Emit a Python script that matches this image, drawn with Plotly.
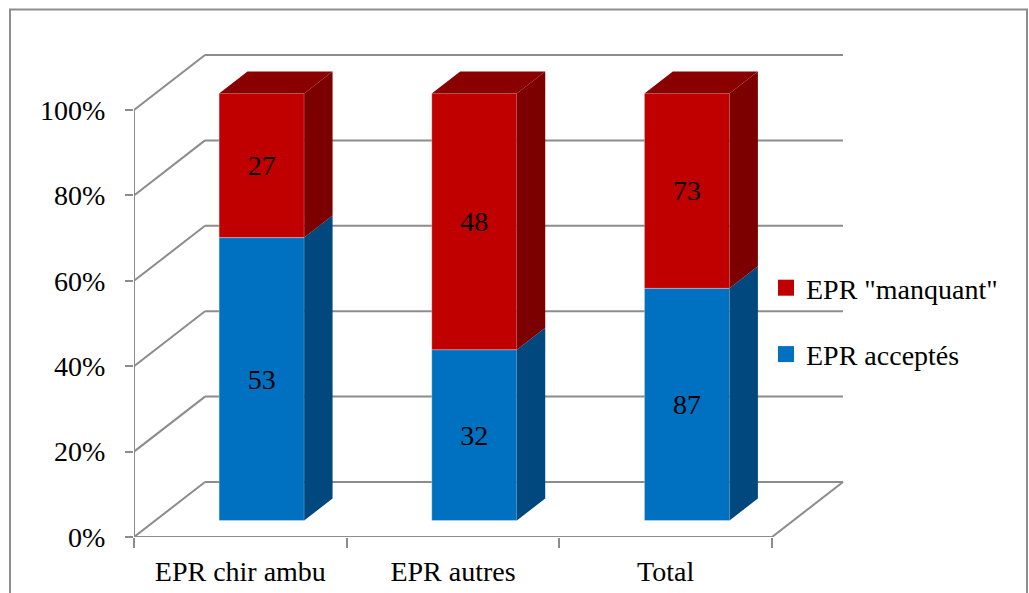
import plotly.graph_objects as go

# ---- data ----
categories = ["EPR chir ambu", "EPR autres", "Total"]
accepted = [53, 32, 87]
missing = [27, 48, 73]
name_accepted = "EPR acceptés"
name_missing = 'EPR "manquant"'
y_ticks = [0, 20, 40, 60, 80, 100]

# ---- styling / 3D projection parameters ----
PX_X = 638 / 3.0        # pixels per category unit
PX_Y = 427 / 100.0      # pixels per percent
DX = 71 / PX_X          # depth offset in x (data units)
DY = 55 / PX_Y          # depth offset in y (data units)
F1, F2 = 0.3, 0.7       # front / back depth of bars
BAR_W = 0.4
FONT = "Liberation Serif"
FS = 28
GRID = "#8C8C8C"

BLUE, BLUE_SIDE = "#0070C0", "#00487D"
RED, RED_SIDE, RED_TOP = "#C00000", "#7C0000", "#8A0000"

totals = [a + m for a, m in zip(accepted, missing)]
pct_acc = [a / t * 100 for a, t in zip(accepted, totals)]
pct_mis = [m / t * 100 for m, t in zip(missing, totals)]
n = len(categories)
centers = [i + 0.5 for i in range(n)]

fig = go.Figure()

segments = [
    (pct_acc, [0.0] * n, accepted, BLUE, BLUE_SIDE),
    (pct_mis, pct_acc, missing, RED, RED_SIDE),
]

# front faces (real bars, shifted to the bar's front depth)
for pct, base, raw, col, _ in segments:
    fig.add_trace(go.Bar(
        x=[c + F1 * DX for c in centers],
        y=pct,
        base=[b + F1 * DY for b in base],
        width=BAR_W,
        marker=dict(color=col, line=dict(color="rgba(255,255,255,0.3)", width=1)),
        text=[str(v) for v in raw],
        textposition="inside",
        insidetextanchor="middle",
        textangle=0,
        textfont=dict(family=FONT, size=FS, color="black"),
        showlegend=False,
        hoverinfo="skip",
    ))

# side faces
for pct, base, raw, col, side in segments:
    for c, p, b in zip(centers, pct, base):
        xr = c + BAR_W / 2
        bot, top = b, b + p
        xs = [xr + F1 * DX, xr + F2 * DX, xr + F2 * DX, xr + F1 * DX, xr + F1 * DX]
        ys = [bot + F1 * DY, bot + F2 * DY, top + F2 * DY, top + F1 * DY, bot + F1 * DY]
        fig.add_trace(go.Scatter(x=xs, y=ys, mode="lines", fill="toself",
                                 fillcolor=side, line=dict(width=0, color=side),
                                 showlegend=False, hoverinfo="skip"))

# top faces (of the top segment)
for c, p, b in zip(centers, pct_mis, pct_acc):
    xl, xr = c - BAR_W / 2, c + BAR_W / 2
    top = b + p
    xs = [xl + F1 * DX, xr + F1 * DX, xr + F2 * DX, xl + F2 * DX, xl + F1 * DX]
    ys = [top + F1 * DY, top + F1 * DY, top + F2 * DY, top + F2 * DY, top + F1 * DY]
    fig.add_trace(go.Scatter(x=xs, y=ys, mode="lines", fill="toself",
                             fillcolor=RED_TOP, line=dict(width=0, color=RED_TOP),
                             showlegend=False, hoverinfo="skip"))

# legend entries
fig.add_trace(go.Scatter(x=[None], y=[None], mode="markers", name=name_missing,
                         marker=dict(symbol="square", size=16, color=RED),
                         legendgroup="m", legendrank=1))
fig.add_trace(go.Scatter(x=[None], y=[None], mode="markers", name=name_accepted,
                         marker=dict(symbol="square", size=16, color=BLUE),
                         legendgroup="a", legendrank=2))

# walls / gridlines / floor as shapes below traces
shapes = []
def seg(x0, y0, x1, y1):
    shapes.append(dict(type="line", x0=x0, y0=y0, x1=x1, y1=y1, xref="x", yref="y",
                       layer="below", line=dict(color=GRID, width=2)))

for v in y_ticks:
    seg(0, v, DX, v + DY)
    seg(DX, v + DY, n + DX, v + DY)
seg(0, 0, n, 0)
seg(n, 0, n + DX, DY)
seg(0, 0, 0, 100)

# outer chart border
bx0 = (10 - 134) / 886
bx1 = (1027 - 134) / 886
by1 = (537 - 9.5) / 504
shapes.append(dict(type="path", xref="paper", yref="paper",
                   path=f"M {bx0} -0.3 L {bx0} {by1} L {bx1} {by1} L {bx1} -0.3",
                   line=dict(color="#8E8E8E", width=2), layer="above"))

plot_w, plot_h = 886, 504
fig.update_layout(
    width=1029, height=593,
    margin=dict(l=134, r=9, t=33, b=56, pad=0, autoexpand=False),
    paper_bgcolor="white", plot_bgcolor="white",
    barmode="overlay",
    shapes=shapes,
    font=dict(family=FONT, size=FS, color="black"),
    xaxis=dict(range=[0, plot_w / PX_X], showgrid=False, zeroline=False, showline=False,
               automargin=False,
               tickmode="array", tickvals=centers, ticktext=categories, ticks="",
               ticklabelstandoff=15,
               minor=dict(tickmode="array", tickvals=list(range(n + 1)), ticks="outside",
                          ticklen=10, tickwidth=2, tickcolor=GRID),
               tickfont=dict(family=FONT, size=FS, color="black"), fixedrange=True),
    yaxis=dict(range=[0, plot_h / PX_Y], showgrid=False, zeroline=False, showline=False,
               automargin=False,
               tickmode="array", tickvals=y_ticks, ticktext=[f"{v}%" for v in y_ticks],
               ticks="outside", ticklen=8, tickwidth=2, tickcolor=GRID,
               ticklabelstandoff=14,
               tickfont=dict(family=FONT, size=FS, color="black"), fixedrange=True),
    legend=dict(x=(766 - 134) / plot_w, y=(537 - 263) / plot_h, xanchor="left", yanchor="top",
                bgcolor="rgba(0,0,0,0)", tracegroupgap=27,
                font=dict(family=FONT, size=FS, color="black")),
)

fig.write_html("out.html", config={"displayModeBar": False},
               post_script="document.body.style.margin='0';document.body.style.overflow='hidden';")
